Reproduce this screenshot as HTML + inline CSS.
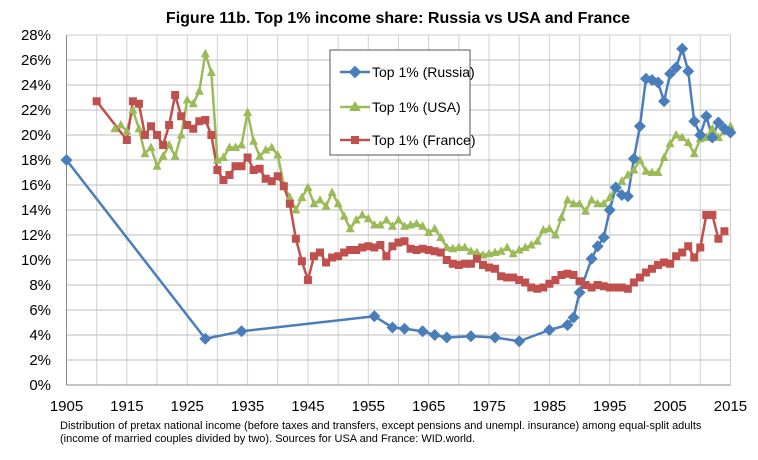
<!DOCTYPE html>
<html><head><meta charset="utf-8"><style>
body{margin:0;background:#fff;width:758px;height:455px;overflow:hidden;font-family:"Liberation Sans",Arial,sans-serif}
</style></head><body>
<svg id="s" width="758" height="455" xmlns="http://www.w3.org/2000/svg" font-family="Liberation Sans, Arial, sans-serif">
<rect width="758" height="455" fill="#fff"/>
<text x="398" y="23" text-anchor="middle" font-size="16" font-weight="bold">Figure 11b. Top 1% income share: Russia vs USA and France</text>
<g id="grid"></g>
<g id="series"></g>
<g>
<rect x="330" y="50" width="140" height="105" fill="#fff" stroke="#555" stroke-width="1"/>
<line x1="340" y1="72" x2="370" y2="72" stroke="#4a7ebb" stroke-width="2.5"/><rect x="350.5" y="67.5" width="9" height="9" fill="#4a7ebb" transform="rotate(45 355 72)"/>
<text x="372" y="77" font-size="14">Top 1% (Russia)</text>
<line x1="340" y1="107" x2="370" y2="107" stroke="#9bbb59" stroke-width="2.5"/><polygon points="355,101 361,111 349,111" fill="#9bbb59"/>
<text x="372" y="112" font-size="14">Top 1% (USA)</text>
<line x1="340" y1="140" x2="370" y2="140" stroke="#c0504d" stroke-width="2.5"/><rect x="351" y="136" width="8" height="8" fill="#c0504d"/>
<text x="372" y="145" font-size="14">Top 1% (France)</text>
</g>
<text x="60" y="429" font-size="11">Distribution of pretax national income (before taxes and transfers, except pensions and unempl. insurance) among equal-split adults</text>
<text x="60" y="442" font-size="11">(income of married couples divided by two). Sources for USA and France: WID.world.</text>
</svg>
<script>
const X=y=>66.5+(y-1905)*6.036, Y=v=>385-v*12.5;
let g='';
for(let yr=1905;yr<=2015;yr+=5){g+=`<line x1="${X(yr)}" y1="35" x2="${X(yr)}" y2="385" stroke="#d0d0d0"/>`;}
for(let v=0;v<=28;v+=2){g+=`<line x1="66.5" y1="${Y(v)}" x2="730.5" y2="${Y(v)}" stroke="${v==0?'#888':'#bdbdbd'}"/>`;
g+=`<text x="51" y="${Y(v)+5}" font-size="15" text-anchor="end">${v}%</text>`;}
g+=`<line x1="66.5" y1="35" x2="66.5" y2="385" stroke="#888"/><line x1="730.5" y1="35" x2="730.5" y2="385" stroke="#ccc"/><line x1="66.5" y1="35" x2="730.5" y2="35" stroke="#ccc"/>`;
for(let yr=1905;yr<=2015;yr+=10){g+=`<text x="${X(yr)}" y="411" font-size="15" text-anchor="middle">${yr}</text>`;}
document.getElementById('grid').innerHTML=g;
const ru=[[1905,18],[1928,3.7],[1934,4.3],[1956,5.5],[1959,4.6],[1961,4.5],[1964,4.3],[1966,4.0],[1968,3.8],[1972,3.9],[1976,3.8],[1980,3.5],[1985,4.4],[1988,4.8],[1989,5.4],[1990,7.4],[1992,10.1],[1993,11.1],[1994,11.8],[1995,14.0],[1996,15.8],[1997,15.2],[1998,15.1],[1999,18.1],[2000,20.7],[2001,24.5],[2002,24.4],[2003,24.2],[2004,22.7],[2005,24.9],[2006,25.4],[2007,26.9],[2008,25.1],[2009,21.1],[2010,20.0],[2011,21.5],[2012,19.8],[2013,21.0],[2014,20.5],[2015,20.2]];
const usv=[20.5,20.8,20.3,22.0,20.5,18.5,19.0,17.5,18.3,19.2,18.3,20.0,22.8,22.5,23.5,26.5,25.0,18.0,18.2,19.0,19.0,19.2,21.8,19.5,18.3,18.8,19.0,18.4,16.0,15.0,14.0,15.0,15.8,14.5,14.8,14.3,15.4,14.5,13.5,12.5,13.2,13.6,13.3,12.8,12.8,13.2,12.7,13.2,12.7,12.8,12.9,12.7,12.2,12.5,11.8,11.0,10.9,11.0,11.0,10.7,10.6,10.4,10.5,10.6,10.7,11.0,10.5,10.8,11.0,11.2,11.5,12.4,12.5,12.0,13.4,14.8,14.5,14.5,13.9,14.8,14.5,14.5,15.0,15.8,16.3,16.8,17.2,18.0,17.1,17.0,17.0,18.2,19.3,20.0,19.8,19.4,18.5,19.7,19.8,20.5,19.8,20.3,20.7];
const us=usv.map((v,i)=>[1913+i,v]);
const frv=[19.6,22.7,22.5,20.0,20.7,20.0,19.2,20.8,23.2,21.5,20.8,20.5,21.1,21.2,20.0,17.2,16.4,16.8,17.5,17.5,18.2,17.2,17.3,16.5,16.3,16.7,15.9,14.5,11.7,9.9,8.4,10.3,10.6,9.8,10.2,10.3,10.6,10.8,10.8,11.0,11.1,11.0,11.2,10.3,11.1,11.4,11.5,10.9,10.8,10.9,10.8,10.7,10.6,10.0,9.7,9.6,9.7,9.7,10.1,9.6,9.4,9.3,8.7,8.6,8.6,8.4,8.2,7.8,7.7,7.8,8.1,8.4,8.8,8.9,8.8,8.3,8.0,7.8,8.0,7.9,7.8,7.8,7.8,7.7,8.2,8.6,9.0,9.3,9.6,9.8,9.7,10.3,10.6,11.1,10.2,11.0,13.6,13.6,11.7,12.3];
const fr=[[1910,22.7]].concat(frv.map((v,i)=>[1915+i,v]));
function line(d,c){return `<polyline fill="none" stroke="${c}" stroke-width="2.5" stroke-linejoin="round" points="${d.map(p=>X(p[0])+','+Y(p[1])).join(' ')}"/>`;}
let s=line(ru,'#4a7ebb')+line(us,'#9bbb59')+line(fr,'#c0504d');
us.forEach(p=>{const x=X(p[0]),y=Y(p[1]);s+=`<polygon points="${x},${y-5} ${x+4.5},${y+3.5} ${x-4.5},${y+3.5}" fill="#9bbb59"/>`;});
fr.forEach(p=>{const x=X(p[0]),y=Y(p[1]);s+=`<rect x="${x-4}" y="${y-4}" width="8" height="8" fill="#c0504d"/>`;});
ru.forEach(p=>{const x=X(p[0]),y=Y(p[1]);s+=`<polygon points="${x},${y-6} ${x+6},${y} ${x},${y+6} ${x-6},${y}" fill="#4a7ebb"/>`;});
document.getElementById('series').innerHTML=s;
</script>
</body></html>
